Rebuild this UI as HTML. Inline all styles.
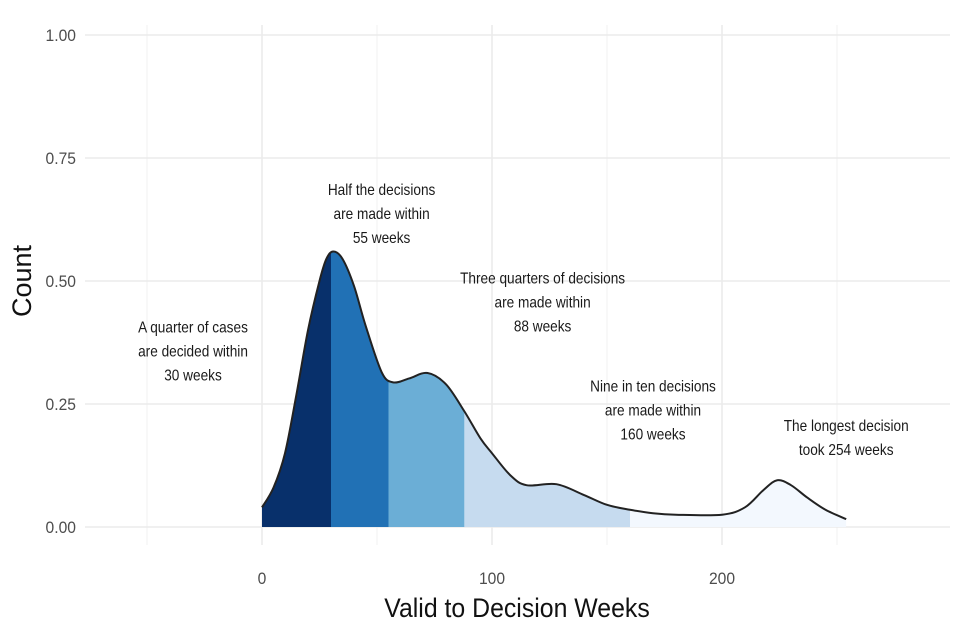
<!DOCTYPE html>
<html><head><meta charset="utf-8"><style>
body{margin:0;background:#fff;}
svg{display:block;font-family:"Liberation Sans",sans-serif;}
</style></head><body>
<svg id="chart" width="960" height="640"></svg>
<script>
const weeks=[0,5,10,15,20,25,28,31,35,40,45,52,57,64,72,80,88,95,100,108,115,128,140,150,160,170,180,200,210,218,224,230,237,245,254];
const density=[0.04,0.08,0.15,0.27,0.40,0.50,0.545,0.56,0.545,0.49,0.41,0.315,0.294,0.302,0.313,0.29,0.235,0.18,0.15,0.105,0.085,0.087,0.065,0.045,0.035,0.028,0.025,0.025,0.04,0.075,0.095,0.085,0.06,0.035,0.016];
const cuts=[0,30,55,88,160,254];
const fills=["#08306b","#2171b5","#6baed6","#c6dbef","#f3f8fe"];
const xTicks=[0,100,200];
const xGrid=[-50,50,150,250];
const yTicks=[0,0.25,0.5,0.75,1];
const yLabels=["0.00","0.25","0.50","0.75","1.00"];
const notes=[
 {x:-30,y:0.395,lines:["A quarter of cases","are decided within","30 weeks"]},
 {x:52,y:0.675,lines:["Half the decisions","are made within","55 weeks"]},
 {x:122,y:0.495,lines:["Three quarters of decisions","are made within","88 weeks"]},
 {x:170,y:0.275,lines:["Nine in ten decisions","are made within","160 weeks"]},
 {x:254,y:0.195,lines:["The longest decision","took 254 weeks"]}
];
const NS="http://www.w3.org/2000/svg";
const svg=document.getElementById('chart');
const X=w=>262+w*2.3;
const Y=v=>527-v*492;
function el(t,a,p){const e=document.createElementNS(NS,t);for(const k in a)e.setAttribute(k,a[k]);(p||svg).appendChild(e);return e;}
xGrid.forEach(g=>{const l=el('line',{x1:X(g),x2:X(g),y1:25,y2:545,stroke:'#f2f2f2','stroke-width':1});

});
xTicks.forEach(g=>{const l=el('line',{x1:X(g),x2:X(g),y1:25,y2:545,stroke:'#ebebeb','stroke-width':1.6});


const t=el('text',{x:X(g),y:584,'text-anchor':'middle','font-size':17,fill:'#4d4d4d',transform:`translate(${X(g)},0) scale(0.92,1) translate(${-X(g)},0)`});t.textContent=g;

});
yTicks.forEach((g,i)=>{const l=el('line',{x1:85,x2:950,y1:Y(g),y2:Y(g),stroke:'#ebebeb','stroke-width':1.6});


const t=el('text',{x:76,y:Y(g)+6,'text-anchor':'end','font-size':17,fill:'#4d4d4d',transform:'translate(76,0) scale(0.92,1) translate(-76,0)'});t.textContent=yLabels[i];

});
const pts=weeks.map((w,i)=>[X(w),Y(density[i])]);
let d='M'+pts[0][0]+','+pts[0][1];
for(let i=0;i<pts.length-1;i++){const p0=pts[Math.max(0,i-1)],p1=pts[i],p2=pts[i+1],p3=pts[Math.min(pts.length-1,i+2)];
const c1=[p1[0]+(p2[0]-p0[0])/6,p1[1]+(p2[1]-p0[1])/6],c2=[p2[0]-(p3[0]-p1[0])/6,p2[1]-(p3[1]-p1[1])/6];
d+=` C${c1[0]},${c1[1]} ${c2[0]},${c2[1]} ${p2[0]},${p2[1]}`;}
const area=d+` L${X(weeks[weeks.length-1])},${Y(0)} L${X(0)},${Y(0)} Z`;
const defs=el('defs',{});
for(let i=0;i<cuts.length-1;i++){
 const cp=el('clipPath',{id:'c'+i},defs);
 el('rect',{x:X(cuts[i]),y:0,width:X(cuts[i+1])-X(cuts[i]),height:640},cp);
 const a=el('path',{d:area,fill:fills[i],'clip-path':`url(#c${i})`});
 
 
}
const line=el('path',{d:d,fill:'none',stroke:'#222','stroke-width':2});


notes.forEach(n=>{const cx=X(n.x);const t=el('text',{'text-anchor':'middle','font-size':15.5,fill:'#1a1a1a',transform:`translate(${cx},0) scale(0.88,1) translate(${-cx},0)`});


n.lines.forEach((s,j)=>{const ts=el('tspan',{x:cx,y:Y(n.y)+j*24},t);ts.textContent=s;});});
const xt=el('text',{x:517,y:617,'text-anchor':'middle','font-size':27,fill:'#111',transform:'translate(517,0) scale(0.92,1) translate(-517,0)'});xt.textContent='Valid to Decision Weeks';


const yt=el('text',{x:0,y:0,transform:'translate(31,281) rotate(-90)','text-anchor':'middle','font-size':27,fill:'#111'});yt.textContent='Count';


</script>
</body></html>
